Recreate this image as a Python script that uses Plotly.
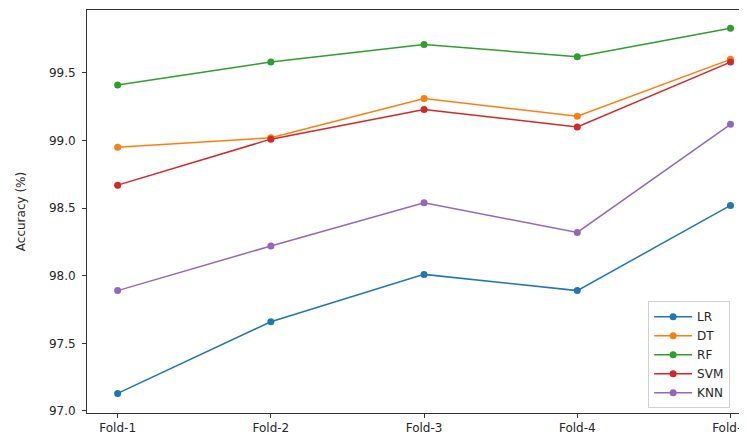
import plotly.graph_objects as go

folds = ["Fold-1", "Fold-2", "Fold-3", "Fold-4", "Fold-5"]
lr = [97.13, 97.66, 98.01, 97.89, 98.52]
dt = [98.95, 99.02, 99.31, 99.18, 99.60]
rf = [99.41, 99.58, 99.71, 99.62, 99.83]
svm = [98.67, 99.01, 99.23, 99.10, 99.58]
knn = [97.89, 98.22, 98.54, 98.32, 99.12]

series = [("LR", lr, "#1f77b4"), ("DT", dt, "#ff7f0e"), ("RF", rf, "#2ca02c"),
          ("SVM", svm, "#d62728"), ("KNN", knn, "#9467bd")]

x = list(range(len(folds)))
fig = go.Figure()
for name, vals, col in series:
    fig.add_trace(go.Scatter(x=x, y=vals, name=name, mode="lines+markers",
                             line=dict(color=col, width=1.5),
                             marker=dict(color=col, size=7)))

font = "DejaVu Sans"
fig.update_layout(
    width=747, height=437,
    margin=dict(l=79, r=0, t=2, b=32),
    paper_bgcolor="white", plot_bgcolor="white",
    font=dict(family=font, size=12, color="#262626"),
    showlegend=True,
    legend=dict(x=0.84, y=0.012, xanchor="left", yanchor="bottom",
                bordercolor="#d0d0d0", borderwidth=1, bgcolor="white",
                font=dict(size=12), itemwidth=38, tracegroupgap=0),
    xaxis=dict(range=[-0.2, 4.16], tickvals=x, ticktext=folds,
               showgrid=False, zeroline=False, showline=True, linecolor="#333",
               linewidth=1, mirror=True, ticks="outside", ticklen=4,
               tickcolor="#333"),
    yaxis=dict(range=[96.985, 99.965], tickvals=[97.0, 97.5, 98.0, 98.5, 99.0, 99.5],
               tickformat=".1f", showgrid=False, zeroline=False, showline=True,
               linecolor="#333", linewidth=1, mirror=False, ticks="outside",
               ticklen=4, tickcolor="#333", ticklabelstandoff=4,
               title=dict(text="Accuracy (%)", font=dict(size=12), standoff=20)),
)
fig.write_html("out.html")
